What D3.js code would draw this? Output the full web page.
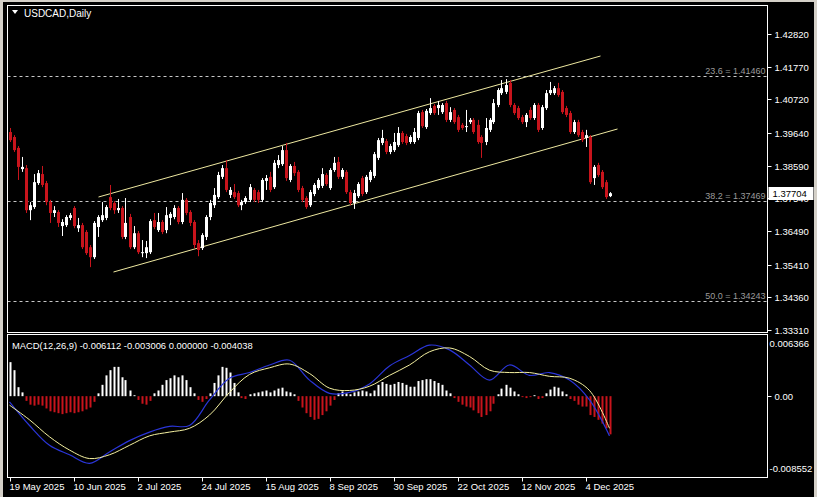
<!DOCTYPE html>
<html><head><meta charset="utf-8">
<script src="https://cdn.jsdelivr.net/npm/d3@7"></script>
<style>html,body{margin:0;padding:0;background:#000;overflow:hidden}svg{display:block}</style>
</head><body>
<svg id="c" width="817" height="497"></svg>
<script>
const opens=[1.3967,1.3951,1.3916,1.3848,1.3851,1.3716,1.3726,1.3803,1.3832,1.3803,
1.3742,1.3707,1.3710,1.3665,1.3668,1.3691,1.3723,1.3658,1.3668,1.3646,
1.3597,1.3565,1.3662,1.3684,1.3691,1.3758,1.3739,1.3716,1.3723,1.3630,
1.3694,1.3597,1.3642,1.3578,1.3578,1.3581,1.3684,1.3652,1.3678,1.3652,
1.3691,1.3694,1.3723,1.3678,1.3749,1.3710,1.3678,1.3610,1.3594,1.3630,
1.3694,1.3732,1.3758,1.3823,1.3851,1.3765,1.3774,1.3771,1.3732,1.3742,
1.3749,1.3781,1.3774,1.3749,1.3810,1.3823,1.3790,1.3861,1.3864,1.3909,
1.3813,1.3858,1.3839,1.3787,1.3755,1.3732,1.3768,1.3787,1.3794,1.3829,
1.3787,1.3845,1.3871,1.3823,1.3839,1.3774,1.3739,1.3761,1.3819,1.3774,
1.3813,1.3826,1.3884,1.3932,1.3938,1.3903,1.3909,1.3925,1.3964,1.3954,
1.3935,1.3935,1.3948,1.4031,1.3983,1.4028,1.4051,1.4044,1.4031,1.4060,
1.4006,1.4038,1.4015,1.3990,1.3983,1.3999,1.4006,1.3990,1.3951,1.3935,
1.3974,1.3999,1.4054,1.4092,1.4096,1.4125,1.4054,1.4044,1.4015,1.3999,
1.4038,1.4012,1.4054,1.3980,1.4044,1.4092,1.4092,1.4108,1.4096,1.4044,
1.4028,1.3967,1.3999,1.3967,1.3948,1.3951,1.3819,1.3861,1.3839,1.3806,
1.3761];
const highs=[1.3980,1.3957,1.3922,1.3887,1.3861,1.3742,1.3832,1.3845,1.3858,1.3810,
1.3749,1.3729,1.3716,1.3687,1.3700,1.3707,1.3729,1.3691,1.3675,1.3652,
1.3604,1.3681,1.3700,1.3742,1.3732,1.3797,1.3745,1.3752,1.3729,1.3755,
1.3704,1.3665,1.3649,1.3620,1.3617,1.3687,1.3707,1.3707,1.3684,1.3726,
1.3710,1.3732,1.3729,1.3771,1.3755,1.3716,1.3684,1.3620,1.3642,1.3700,
1.3749,1.3787,1.3839,1.3861,1.3877,1.3790,1.3800,1.3778,1.3749,1.3761,
1.3800,1.3787,1.3781,1.3819,1.3829,1.3839,1.3877,1.3893,1.3922,1.3932,
1.3864,1.3871,1.3845,1.3794,1.3761,1.3781,1.3803,1.3819,1.3851,1.3835,
1.3851,1.3887,1.3887,1.3851,1.3845,1.3781,1.3781,1.3806,1.3826,1.3829,
1.3845,1.3903,1.3948,1.3974,1.3945,1.3929,1.3964,1.3983,1.3970,1.3961,
1.3957,1.3980,1.4035,1.4038,1.4041,1.4076,1.4057,1.4067,1.4060,1.4067,
1.4047,1.4044,1.4022,1.3996,1.4038,1.4012,1.4012,1.4006,1.3957,1.4012,
1.4012,1.4073,1.4108,1.4134,1.4137,1.4134,1.4060,1.4051,1.4022,1.4028,
1.4047,1.4060,1.4060,1.4054,1.4102,1.4128,1.4115,1.4125,1.4102,1.4051,
1.4035,1.4006,1.4006,1.3974,1.3974,1.3957,1.3861,1.3868,1.3845,1.3813,
1.3774];
const lows=[1.3935,1.3903,1.3813,1.3839,1.3707,1.3684,1.3720,1.3797,1.3790,1.3732,
1.3675,1.3694,1.3662,1.3633,1.3662,1.3684,1.3658,1.3646,1.3591,1.3572,
1.3533,1.3559,1.3630,1.3678,1.3684,1.3716,1.3704,1.3707,1.3623,1.3623,
1.3591,1.3591,1.3575,1.3565,1.3562,1.3575,1.3655,1.3646,1.3639,1.3642,
1.3668,1.3687,1.3671,1.3671,1.3700,1.3665,1.3594,1.3568,1.3588,1.3620,
1.3684,1.3723,1.3752,1.3816,1.3774,1.3755,1.3752,1.3726,1.3716,1.3736,
1.3742,1.3742,1.3739,1.3742,1.3781,1.3774,1.3784,1.3851,1.3858,1.3810,
1.3806,1.3826,1.3774,1.3742,1.3720,1.3726,1.3761,1.3781,1.3787,1.3794,
1.3781,1.3839,1.3816,1.3816,1.3768,1.3732,1.3720,1.3755,1.3761,1.3768,
1.3806,1.3819,1.3877,1.3925,1.3896,1.3896,1.3903,1.3919,1.3929,1.3925,
1.3929,1.3929,1.3941,1.3980,1.3977,1.4022,1.4022,1.4022,1.4025,1.3999,
1.3999,1.3993,1.3967,1.3974,1.3967,1.3993,1.3961,1.3929,1.3884,1.3925,
1.3967,1.3993,1.4047,1.4086,1.4089,1.4047,1.4022,1.4006,1.3993,1.3983,
1.4006,1.4006,1.3967,1.3974,1.4038,1.4086,1.4086,1.4080,1.4025,1.4015,
1.3961,1.3961,1.3951,1.3935,1.3919,1.3800,1.3797,1.3823,1.3784,1.3752,
1.3758];
const closes=[1.3941,1.3909,1.3855,1.3855,1.3716,1.3732,1.3806,1.3835,1.3797,1.3742,
1.3707,1.3716,1.3675,1.3678,1.3694,1.3700,1.3665,1.3668,1.3597,1.3578,
1.3565,1.3675,1.3694,1.3700,1.3726,1.3723,1.3716,1.3723,1.3630,1.3675,
1.3597,1.3642,1.3581,1.3581,1.3597,1.3681,1.3662,1.3678,1.3646,1.3700,
1.3704,1.3723,1.3678,1.3749,1.3707,1.3675,1.3604,1.3588,1.3636,1.3694,
1.3739,1.3765,1.3829,1.3851,1.3781,1.3781,1.3758,1.3732,1.3742,1.3755,
1.3790,1.3749,1.3749,1.3813,1.3819,1.3781,1.3868,1.3877,1.3909,1.3819,
1.3858,1.3835,1.3781,1.3749,1.3726,1.3774,1.3797,1.3813,1.3832,1.3800,
1.3845,1.3868,1.3823,1.3845,1.3774,1.3739,1.3771,1.3800,1.3768,1.3823,
1.3839,1.3896,1.3941,1.3948,1.3903,1.3922,1.3935,1.3964,1.3935,1.3932,
1.3951,1.3967,1.4028,1.3986,1.4035,1.4044,1.4028,1.4054,1.4054,1.4006,
1.4031,1.3999,1.3974,1.3980,1.3986,1.4006,1.3967,1.3935,1.3932,1.3980,
1.4006,1.4060,1.4102,1.4108,1.4118,1.4054,1.4028,1.4012,1.3999,1.4022,
1.4012,1.4054,1.3974,1.4047,1.4092,1.4102,1.4108,1.4086,1.4031,1.4022,
1.3967,1.3999,1.3957,1.3941,1.3957,1.3806,1.3855,1.3829,1.3790,1.3758,
1.37704];

const histVals=[0.0036,0.00275,0.00095,0.0004,-0.0005,-0.0009,-0.0010,-0.0009,-0.0010,-0.0013,
-0.0016,-0.0017,-0.0018,-0.0019,-0.0018,-0.0017,-0.0018,-0.0017,-0.0016,-0.0014,
-0.0012,-0.0006,0.0003,0.0012,0.0022,0.00275,0.0031,0.0031,0.0020,0.0017,
0.0006,0.0001,-0.0004,-0.0008,-0.0009,-0.0005,0.0003,0.0006,0.0012,0.0017,
0.0019,0.0022,0.0020,0.0022,0.0017,0.00095,0.0003,-0.0004,-0.0006,-0.0003,
0.0003,0.0014,0.0022,0.0031,0.0030,0.0025,0.0014,0.0004,-0.0002,-0.0003,
0.0002,0.0003,0.0004,0.0005,0.0006,0.0004,0.0006,0.0008,0.0009,0.0005,
0.0004,0.0002,-0.0005,-0.0012,-0.0018,-0.0022,-0.0025,-0.0024,-0.0020,-0.0016,
-0.0010,-0.0004,0.0003,0.0005,0.0003,0.0002,0.0004,0.0005,0.0006,0.0005,
0.0003,0.0006,0.0012,0.0015,0.0013,0.0012,0.0013,0.0015,0.0014,0.0012,
0.0010,0.0010,0.0016,0.0017,0.0018,0.0018,0.0016,0.0014,0.0012,0.0006,
0.0003,-0.0002,-0.0006,-0.0009,-0.0011,-0.0012,-0.0015,-0.0018,-0.0022,-0.0020,
-0.0016,-0.0008,0.0002,0.0008,0.0012,0.0009,0.0005,0.0002,-0.0001,-0.0002,
-0.0001,0.0001,-0.0003,-0.0002,0.0003,0.0007,0.0010,0.0009,0.0005,0.0002,
-0.0003,-0.0005,-0.0009,-0.0011,-0.0011,-0.0020,-0.0022,-0.0025,-0.0029,-0.0034,
-0.004038];
const lineIdx=[0,5,10,15,20,25,30,35,40,45,50,55,60,65,70,75,80,85,90,95,100,105,110,115,120,125,130,135,140,145,150];
const macdMain=[-0.0006,-0.0031,-0.0052,-0.0062,-0.0071,-0.0059,-0.0047,-0.0038,-0.0032,-0.0031,-0.0004,0.0019,0.0025,0.0033,0.0038,0.0017,0.0003,0.0004,0.0013,0.0032,0.0043,0.0054,0.0049,0.0033,0.0017,0.0033,0.0022,0.0025,0.0017,-0.0004,-0.0042];
const macdSignal=[-0.00095,-0.0025,-0.0043,-0.0057,-0.0066,-0.0062,-0.0052,-0.0042,-0.0038,-0.0034,-0.0020,0.0004,0.0023,0.0030,0.0034,0.0024,0.00085,0.0006,0.00105,0.0022,0.0033,0.0047,0.0051,0.0042,0.00275,0.0025,0.0025,0.0021,0.0019,0.0006,-0.0034];

const priceTicks=[1.42820,1.41770,1.40720,1.39640,1.38590,1.37540,1.36490,1.35410,1.34360,1.33310];
const macdTickVals=[0.006366,0.0,-0.008552];
const macdTickLabels=["0.006366","0.00","-0.008552"];
const dateLabels=["19 May 2025","10 Jun 2025","2 Jul 2025","24 Jul 2025","15 Aug 2025","8 Sep 2025","30 Sep 2025","22 Oct 2025","12 Nov 2025","4 Dec 2025"];
const dateIdx=[0,16,32,48,64,80,96,112,128,144];
const fibNames=["23.6","38.2","50.0"];
const fibPrices=[1.41460,1.37469,1.34243];
const channelUpperIdx=[22.25,147.75], channelUpperPx=[1.37583,1.42113];
const channelLowerIdx=[26,152], channelLowerPx=[1.35173,1.39768];
const currentPrice=1.37704;
const title="USDCAD,Daily";
const macdTitle="MACD(12,26,9) -0.006112 -0.003006 0.000000 -0.004038";

const svg=d3.select("#c");
const FONT="'Liberation Sans', Arial, sans-serif";
const FS="9.5px";
const L=7.5,R=767.5,T=5.5,B=332.5,MT=334.5,MB=477.5;

svg.append("rect").attr("width",817).attr("height",497).attr("fill","#000");
svg.append("rect").attr("x",0).attr("y",0).attr("width",3).attr("height",497).attr("fill","#d4d0c8");
svg.append("rect").attr("x",0).attr("y",0).attr("width",817).attr("height",2).attr("fill","#d4d0c8");
svg.append("rect").attr("x",814).attr("y",0).attr("width",3).attr("height",497).attr("fill","#d4d0c8");

const x=d3.scaleLinear().domain([0,150]).range([9.5,609.5]);
const y=d3.scaleLinear().domain([1.33310,1.42820]).range([330,34]);
const ym=d3.scaleLinear().domain([-0.008552,0.006366]).range([477,336]);

const main=svg.append("g");
main.append("clipPath").attr("id","cp").append("rect").attr("x",L).attr("y",T).attr("width",R-L).attr("height",B-T);
main.append("clipPath").attr("id","cpm").append("rect").attr("x",L).attr("y",MT).attr("width",R-L).attr("height",MB-MT);

const fg=main.append("g");
fibPrices.forEach((p,k)=>{
  const yy=Math.round(y(p))+0.5;
  fg.append("line").attr("x1",L).attr("x2",R).attr("y1",yy).attr("y2",yy)
    .attr("stroke","#c8c8c8").attr("stroke-dasharray","3,3").attr("stroke-width",1);
  fg.append("text").attr("x",R-2).attr("y",yy-3).attr("text-anchor","end")
    .attr("fill","#9a9a9a").attr("font-family",FONT).attr("font-size","9px")
    .text(fibNames[k]+" = "+p.toFixed(5));
});

const cg=main.append("g").attr("clip-path","url(#cp)");
[[channelUpperIdx,channelUpperPx],[channelLowerIdx,channelLowerPx]].forEach(([ix,px])=>{
  cg.append("line").attr("x1",x(ix[0])).attr("y1",y(px[0])).attr("x2",x(ix[1])).attr("y2",y(px[1]))
    .attr("stroke","#eee8a0").attr("stroke-width",1);
});

const bars=d3.range(opens.length).map(i=>({i,o:opens[i],h:highs[i],l:lows[i],c:closes[i]}));
const kg=main.append("g").attr("clip-path","url(#cp)");
bars.forEach(d=>{
  const up=d.c>=d.o;
  const col=up?"#ffffff":"#c8141c";
  const cx=Math.round(x(d.i))+0.5;
  kg.append("line").attr("x1",cx).attr("x2",cx).attr("y1",y(d.h)).attr("y2",y(d.l)).attr("stroke",col).attr("stroke-width",1);
  const t=y(Math.max(d.o,d.c)), b=y(Math.min(d.o,d.c));
  kg.append("rect").attr("x",cx-1.5).attr("y",t).attr("width",3).attr("height",Math.max(1,b-t)).attr("fill",col);
});

svg.append("rect").attr("x",L).attr("y",T).attr("width",R-L).attr("height",B-T).attr("fill","none").attr("stroke","#fff");
svg.append("rect").attr("x",L).attr("y",MT).attr("width",R-L).attr("height",MB-MT).attr("fill","none").attr("stroke","#fff");

const ag=svg.append("g");
priceTicks.forEach(p=>{
  const yy=Math.round(y(p))+0.5;
  ag.append("line").attr("x1",R).attr("x2",R+4).attr("y1",yy).attr("y2",yy).attr("stroke","#fff");
  ag.append("text").attr("x",R+7).attr("y",yy+3.5).attr("fill","#fff").attr("font-family",FONT).attr("font-size",FS).text(p.toFixed(5));
});
const cpY=Math.round(y(currentPrice));
ag.append("rect").attr("x",R+1).attr("y",cpY-6).attr("width",45).attr("height",13).attr("fill","#fff");
ag.append("text").attr("x",R+5).attr("y",cpY+4).attr("fill","#000").attr("font-family",FONT).attr("font-size",FS).text(currentPrice.toFixed(5));

svg.append("path").attr("d","M12,10 L18,10 L15,14 Z").attr("fill","#fff");
svg.append("text").attr("x",24).attr("y",17).attr("fill","#fff").attr("font-family",FONT).attr("font-size","10px").text(title);

const mg=svg.append("g").attr("clip-path","url(#cpm)");
bars.forEach((d,i)=>{
  const v=histVals[i]; const cx=Math.round(x(i))+0.5;
  mg.append("rect").attr("x",cx-1).attr("width",2)
    .attr("y",Math.min(ym(v),ym(0))).attr("height",Math.abs(ym(v)-ym(0)))
    .attr("fill",v>=0?"#ffffff":"#c8141c");
});
const lineGen=(arr)=>d3.line().x((d,k)=>x(lineIdx[k])).y(d=>ym(d)).curve(d3.curveCatmullRom)(arr);
mg.append("path").attr("d",lineGen(macdMain)).attr("fill","none").attr("stroke","#2a35d8").attr("stroke-width",1.2);
mg.append("path").attr("d",lineGen(macdSignal)).attr("fill","none").attr("stroke","#f4f0a0").attr("stroke-width",1);
svg.append("text").attr("x",12).attr("y",349).attr("fill","#fff").attr("font-family",FONT).attr("font-size","9.4px").text(macdTitle);

macdTickVals.forEach((v,k)=>{
  const yy=Math.round(ym(v))+0.5;
  if(k===1) svg.append("line").attr("x1",R).attr("x2",R+4).attr("y1",yy).attr("y2",yy).attr("stroke","#fff");
  const ty = k===0? 347 : (k===2? 472 : yy+3.5);
  svg.append("text").attr("x",R+2+(k===1?5:0)).attr("y",ty).attr("fill","#fff").attr("font-family",FONT).attr("font-size",FS).text(macdTickLabels[k]);
});

dateIdx.forEach((ix,k)=>{
  const xx=Math.round(x(ix))+0.5;
  svg.append("line").attr("x1",xx).attr("x2",xx).attr("y1",MB).attr("y2",MB+4).attr("stroke","#fff");
  svg.append("text").attr("x",xx-1).attr("y",490).attr("fill","#fff").attr("font-family",FONT).attr("font-size",FS).text(dateLabels[k]);
});
</script>
</body></html>
